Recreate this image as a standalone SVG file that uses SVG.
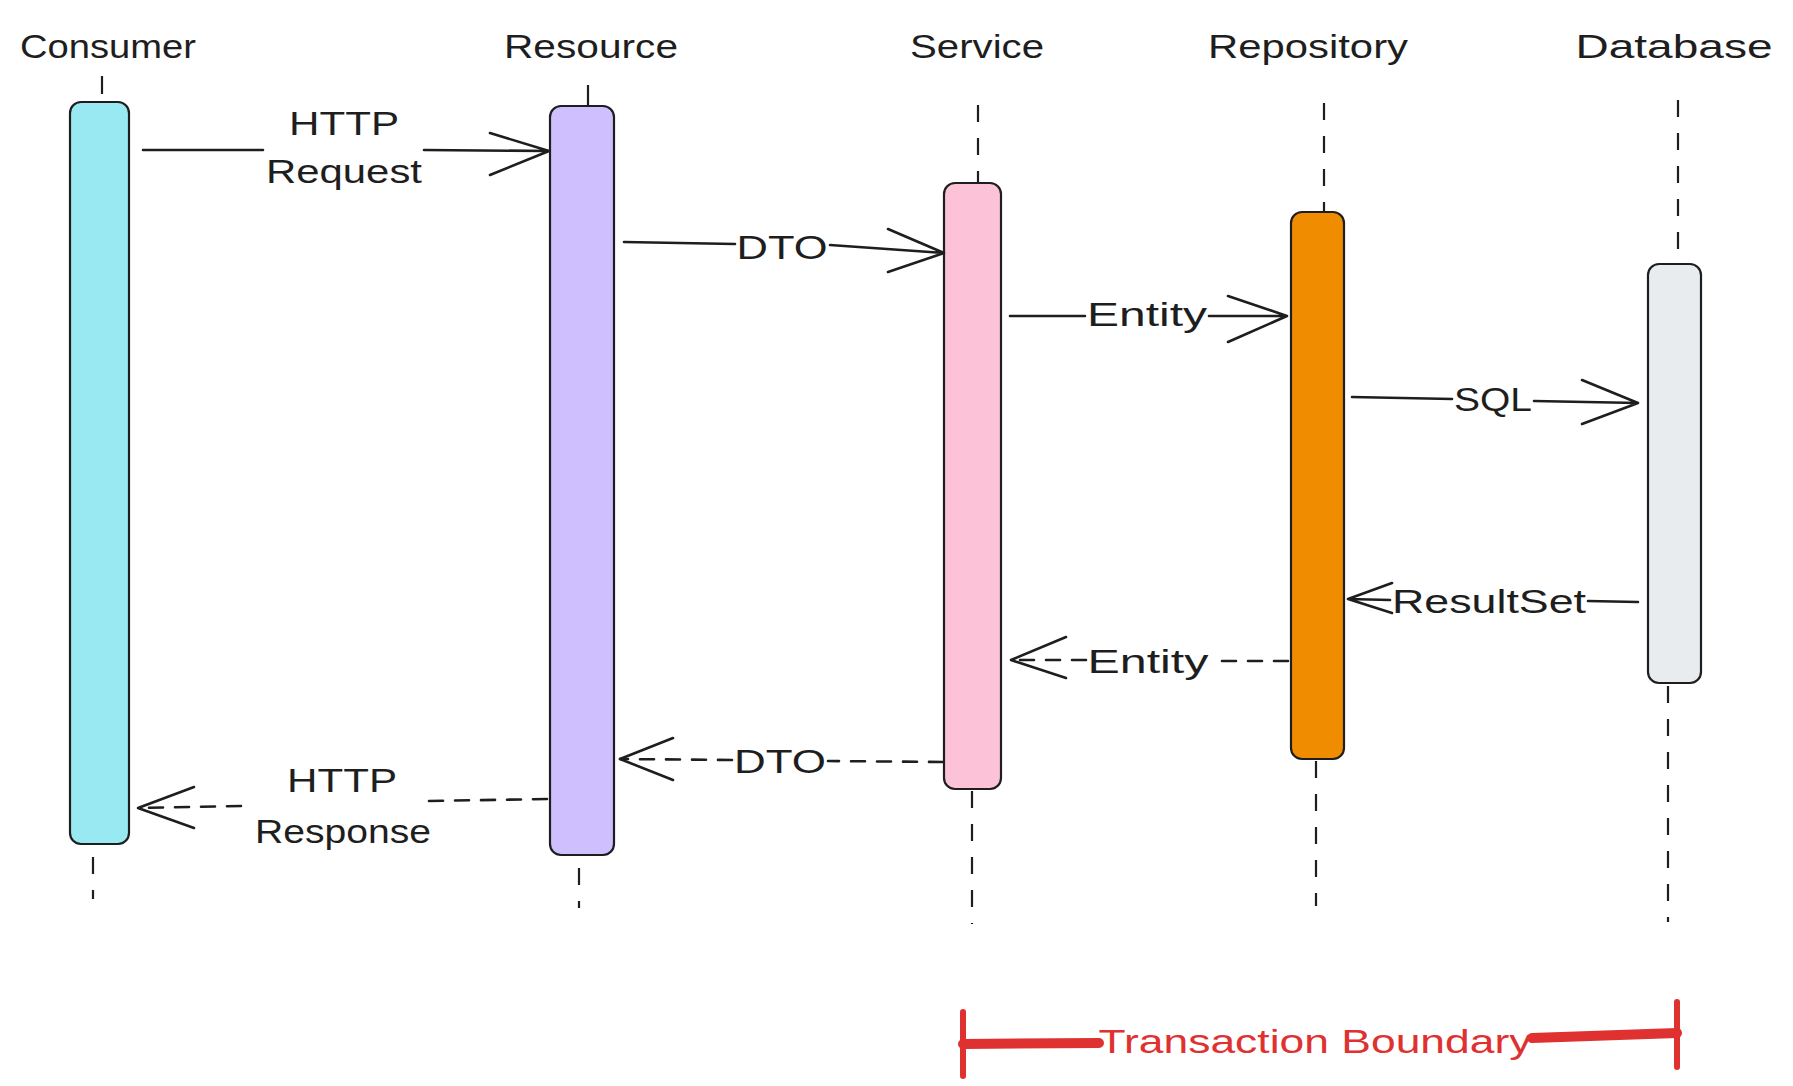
<svg xmlns="http://www.w3.org/2000/svg" width="1793" height="1086" viewBox="0 0 1793 1086">
<style>
text{font-family:"Liberation Sans","DejaVu Sans",sans-serif;fill:#1e1e1e;text-anchor:middle}
.t{font-size:34px}
.bar{stroke:#1e1e1e;stroke-width:2.2}
.life{stroke:#1e1e1e;stroke-width:2.2;fill:none;stroke-dasharray:17 16}
.tick{stroke:#1e1e1e;stroke-width:2.2;fill:none}
.ln{stroke:#1e1e1e;stroke-width:2.6;fill:none;stroke-linecap:round;stroke-linejoin:round}
.dash{stroke-dasharray:14 12}
.red{stroke:#e03131;fill:none;stroke-linecap:round}
</style>
<rect width="1793" height="1086" fill="#ffffff"/>

<g id="consumer">
<text class="t" x="108" y="58" textLength="176" lengthAdjust="spacingAndGlyphs">Consumer</text>
<line class="tick" x1="102" y1="76" x2="102" y2="94"/>
<rect class="bar" x="70" y="102" width="59" height="742" rx="11" fill="#99e9f2"/>
<line class="life" x1="93" y1="857" x2="93" y2="899"/>
</g>

<g id="resource">
<text class="t" x="591" y="58" textLength="174" lengthAdjust="spacingAndGlyphs">Resource</text>
<line class="tick" x1="588" y1="85" x2="588" y2="105"/>
<rect class="bar" x="550" y="106" width="64" height="749" rx="11" fill="#d0bfff"/>
<line class="life" x1="579" y1="868" x2="579" y2="908"/>
</g>

<g id="service">
<text class="t" x="977" y="58" textLength="134" lengthAdjust="spacingAndGlyphs">Service</text>
<line class="life" x1="978" y1="105" x2="978" y2="183"/>
<rect class="bar" x="944" y="183" width="57" height="606" rx="11" fill="#fcc2d7"/>
<line class="life" x1="972" y1="791" x2="972" y2="924"/>
</g>

<g id="repository">
<text class="t" x="1308" y="58" textLength="200" lengthAdjust="spacingAndGlyphs">Repository</text>
<line class="life" x1="1324" y1="103" x2="1324" y2="212"/>
<rect class="bar" x="1291" y="212" width="53" height="547" rx="11" fill="#f08c00"/>
<line class="life" x1="1316" y1="761" x2="1316" y2="906"/>
</g>

<g id="database">
<text class="t" x="1674" y="58" textLength="197" lengthAdjust="spacingAndGlyphs">Database</text>
<line class="life" x1="1678" y1="100" x2="1678" y2="263"/>
<rect class="bar" x="1648" y="264" width="53" height="419" rx="11" fill="#e9ecef"/>
<line class="life" x1="1668" y1="686" x2="1668" y2="922"/>
</g>

<g id="connectors">
<!-- HTTP Request -->
<path class="ln" d="M143 150 L263 150 M424 150 L549 151 M490 133 L549 151 L490 175"/>
<text class="t" x="344" y="135" textLength="110" lengthAdjust="spacingAndGlyphs">HTTP</text>
<text class="t" x="344" y="183" textLength="156" lengthAdjust="spacingAndGlyphs">Request</text>
<!-- DTO -->
<path class="ln" d="M624 242 L735 244 M830 245 L944 253 M888 229 L944 253 L888 272"/>
<text class="t" x="782" y="259" textLength="91" lengthAdjust="spacingAndGlyphs">DTO</text>
<!-- Entity -->
<path class="ln" d="M1010 316 L1085 316 M1209 316 L1287 316 M1228 296 L1287 316 L1228 342"/>
<text class="t" x="1147" y="326" textLength="120" lengthAdjust="spacingAndGlyphs">Entity</text>
<!-- SQL -->
<path class="ln" d="M1352 397 L1452 399 M1534 401 L1638 403 M1582 380 L1638 403 L1582 424"/>
<text class="t" x="1493" y="411" textLength="78" lengthAdjust="spacingAndGlyphs">SQL</text>
<!-- ResultSet -->
<path class="ln" d="M1638 602 L1588 601 M1390 600 L1348 599 M1392 583 L1348 599 L1392 613"/>
<text class="t" x="1489" y="613" textLength="194" lengthAdjust="spacingAndGlyphs">ResultSet</text>
<!-- Entity return -->
<path class="ln dash" d="M1288 661 L1211 661 M1086 660 L1011 660"/>
<path class="ln" d="M1066 637 L1011 660 L1066 678"/>
<text class="t" x="1148" y="673" textLength="121" lengthAdjust="spacingAndGlyphs">Entity</text>
<!-- DTO return -->
<path class="ln dash" d="M943 762 L828 761 M732 760 L620 759"/>
<path class="ln" d="M673 738 L620 759 L673 780"/>
<text class="t" x="780" y="773" textLength="92" lengthAdjust="spacingAndGlyphs">DTO</text>
<!-- HTTP Response -->
<path class="ln dash" d="M547 799 L429 801 M241 806 L138 808"/>
<path class="ln" d="M194 787 L138 808 L194 828"/>
<text class="t" x="342" y="792" textLength="110" lengthAdjust="spacingAndGlyphs">HTTP</text>
<text class="t" x="343" y="843" textLength="176" lengthAdjust="spacingAndGlyphs">Response</text>
</g>

<g id="transaction-boundary">
<line class="red" x1="963" y1="1012" x2="963" y2="1076" stroke-width="6"/>
<line class="red" x1="1677" y1="1002" x2="1677" y2="1067" stroke-width="6"/>
<path class="red" d="M963 1044 L1099 1043 M1532 1038 L1677 1033" stroke-width="10" stroke-linecap="butt"/>
<text x="1315" y="1053" font-size="34" textLength="433" lengthAdjust="spacingAndGlyphs" style="fill:#e03131">Transaction Boundary</text>
</g>
</svg>
